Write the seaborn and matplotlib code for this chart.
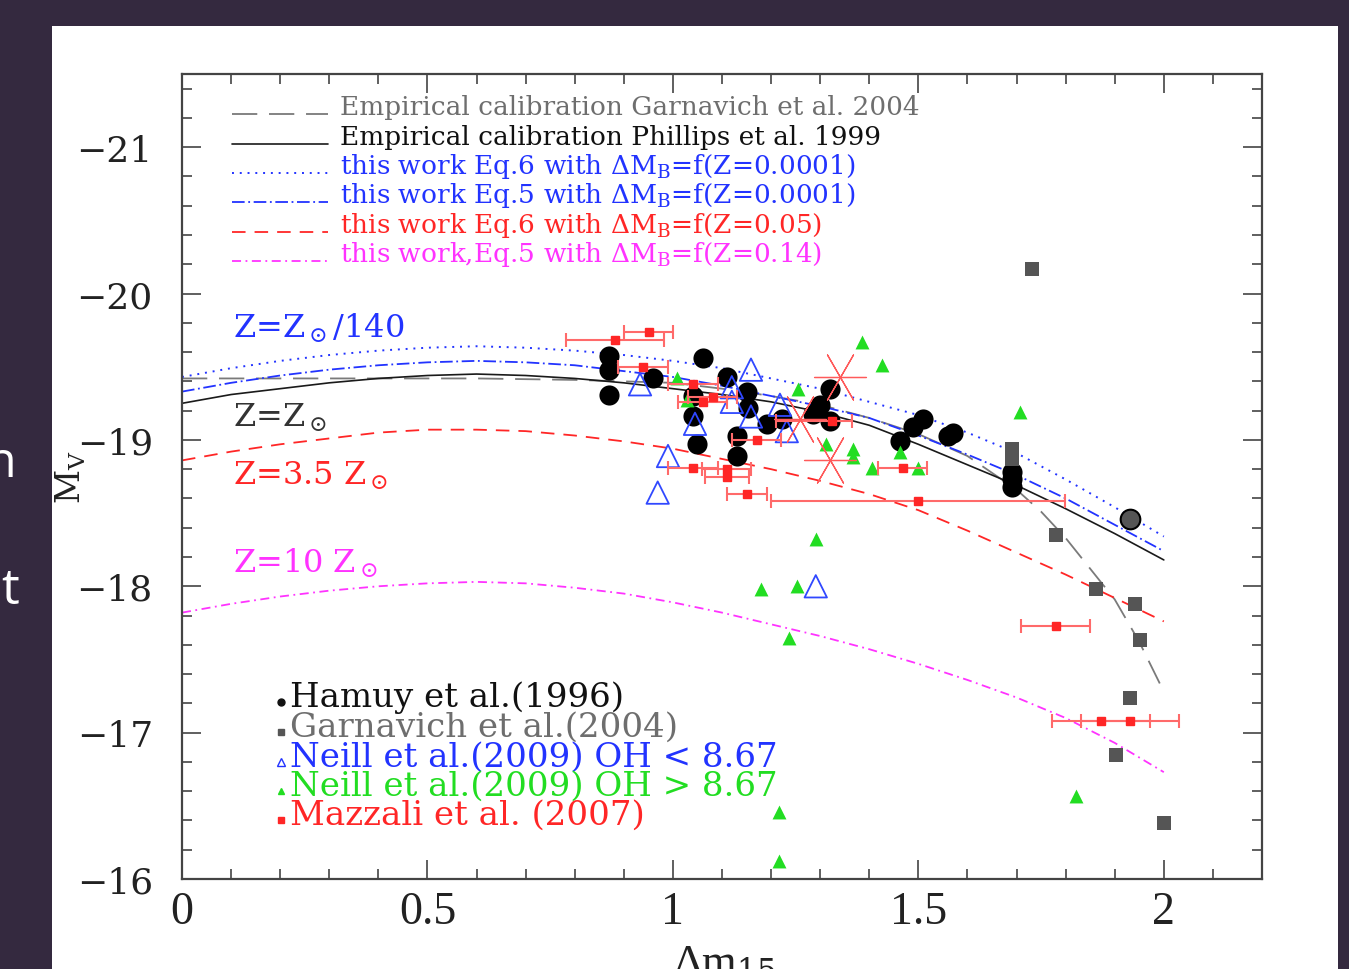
import matplotlib
matplotlib.use("Agg")
import matplotlib.pyplot as plt
import seaborn as sns
from matplotlib.patches import Rectangle
from matplotlib.ticker import MultipleLocator

# ---------------- data ----------------
curve_x = [0.0, 0.1, 0.2, 0.3, 0.4, 0.5, 0.6, 0.7, 0.8, 0.9, 1.0,
           1.1, 1.2, 1.3, 1.4, 1.5, 1.6, 1.7, 1.8, 1.9, 2.0]
phillips_1999 = [-19.25, -19.31, -19.35, -19.39, -19.42, -19.44, -19.45, -19.44, -19.42, -19.39, -19.35,
                 -19.31, -19.26, -19.19, -19.10, -18.97, -18.83, -18.69, -18.53, -18.36, -18.18]
eq6_z0001 = [-19.43, -19.49, -19.54, -19.58, -19.61, -19.63, -19.64, -19.63, -19.61, -19.58, -19.54,
             -19.49, -19.42, -19.35, -19.26, -19.17, -19.05, -18.91, -18.73, -18.54, -18.34]
eq5_z0001 = [-19.33, -19.39, -19.44, -19.48, -19.51, -19.53, -19.54, -19.53, -19.51, -19.47, -19.43,
             -19.37, -19.30, -19.23, -19.15, -19.03, -18.90, -18.76, -18.60, -18.42, -18.24]
eq6_z005 = [-18.86, -18.92, -18.97, -19.01, -19.05, -19.07, -19.07, -19.06, -19.03, -18.99, -18.94,
            -18.87, -18.80, -18.72, -18.63, -18.52, -18.38, -18.23, -18.08, -17.92, -17.76]
eq5_z014 = [-17.82, -17.88, -17.93, -17.97, -18.00, -18.02, -18.03, -18.02, -17.99, -17.95, -17.89,
            -17.82, -17.74, -17.66, -17.57, -17.47, -17.36, -17.24, -17.10, -16.93, -16.73]
garnavich_x = [0.0, 0.2, 0.4, 0.6, 0.8, 1.0, 1.1, 1.2, 1.3, 1.4, 1.5, 1.6,
               1.7, 1.75, 1.8, 1.85, 1.9, 1.95, 2.0]
garnavich_2004 = [-19.42, -19.42, -19.42, -19.42, -19.41, -19.39, -19.35, -19.30, -19.24, -19.15, -19.04, -18.89,
                  -18.66, -18.51, -18.33, -18.12, -17.91, -17.62, -17.28]

hamuy_x = [0.870, 0.870, 0.870, 0.959, 1.061, 1.110, 1.151, 1.041, 1.041, 1.049, 1.130, 1.130,
           1.153, 1.191, 1.222, 1.285, 1.299, 1.320, 1.320, 1.462, 1.489, 1.509, 1.560, 1.570,
           1.690, 1.690, 1.690]
hamuy_m = [-19.57, -19.48, -19.31, -19.42, -19.56, -19.43, -19.33, -19.30, -19.16, -18.97, -19.03, -18.89,
           -19.22, -19.11, -19.14, -19.18, -19.24, -19.35, -19.13, -18.99, -19.09, -19.14, -19.03, -19.05,
           -18.78, -18.73, -18.68]
hamuy_gray_x = [1.931]
hamuy_gray_m = [-18.46]

garn_pts_x = [1.731, 1.690, 1.690, 1.780, 1.862, 1.941, 1.951, 1.931, 1.902, 2.000]
garn_pts_m = [-20.17, -18.94, -18.87, -18.35, -17.98, -17.88, -17.63, -17.24, -16.85, -16.38]

neill_low_x = [0.933, 0.990, 0.969, 1.045, 1.159, 1.120, 1.120, 1.159, 1.218, 1.232, 1.291]
neill_low_m = [-19.38, -18.89, -18.64, -19.11, -19.48, -19.36, -19.26, -19.16, -19.24, -19.06, -18.00]

neill_high_x = [1.008, 1.029, 1.255, 1.385, 1.426, 1.312, 1.367, 1.367, 1.405, 1.462, 1.499,
                1.707, 1.291, 1.179, 1.253, 1.236, 1.216, 1.216, 1.821]
neill_high_m = [-19.42, -19.27, -19.35, -19.67, -19.51, -18.97, -18.94, -18.88, -18.81, -18.92, -18.81,
                -19.19, -18.32, -17.98, -18.00, -17.65, -16.46, -16.12, -16.57]

mazzali_x = [0.882, 0.951, 0.939, 1.041, 1.061, 1.081, 1.171, 1.041, 1.110, 1.110, 1.151,
             1.499, 1.324, 1.468, 1.780, 1.872, 1.931]
mazzali_m = [-19.68, -19.74, -19.50, -19.38, -19.26, -19.29, -19.00, -18.81, -18.80, -18.75, -18.63,
             -18.58, -19.13, -18.81, -17.73, -17.08, -17.08]
mazzali_err_lo = [0.10, 0.05, 0.05, 0.05, 0.05, 0.05, 0.05, 0.05, 0.05, 0.045, 0.04,
                  0.30, 0.115, 0.05, 0.07, 0.10, 0.10]
mazzali_err_hi = [0.10, 0.05, 0.05, 0.05, 0.05, 0.05, 0.05, 0.05, 0.05, 0.045, 0.04,
                  0.30, 0.04, 0.05, 0.07, 0.10, 0.10]
star_x = [1.340, 1.259, 1.320]
star_m = [-19.43, -19.14, -18.86]

xtick_values = [0, 0.5, 1, 1.5, 2]
xtick_labels = ["0", "0.5", "1", "1.5", "2"]
ytick_values = [-21, -20, -19, -18, -17, -16]
ytick_labels = ["\u221221", "\u221220", "\u221219", "\u221218", "\u221217", "\u221216"]

line_labels = [
    "Empirical calibration Garnavich et al. 2004",
    "Empirical calibration Phillips et al. 1999",
    "this work Eq.6 with \u0394M$_{\\rm B}$=f(Z=0.0001)",
    "this work Eq.5 with \u0394M$_{\\rm B}$=f(Z=0.0001)",
    "this work Eq.6 with \u0394M$_{\\rm B}$=f(Z=0.05)",
    "this work,Eq.5 with \u0394M$_{\\rm B}$=f(Z=0.14)",
]
point_labels = [
    "Hamuy et al.(1996)",
    "Garnavich et al.(2004)",
    "Neill et al.(2009) OH < 8.67",
    "Neill et al.(2009) OH > 8.67",
    "Mazzali et al. (2007)",
]
z_labels = ["Z=Z$_\\odot$/140", "Z=Z$_\\odot$", "Z=3.5 Z$_\\odot$", "Z=10 Z$_\\odot$"]

# ---------------- style ----------------
sns.set_theme(style="ticks")
plt.rcParams["font.family"] = ["DejaVu Serif", "DejaVu Sans"]
plt.rcParams["mathtext.fontset"] = "dejavuserif"

GRAY = "#7a7a7a"
BLACK = "#1a1a1a"
BLUE = "#2233ff"
RED = "#ff2626"
MAGENTA = "#ff33ff"
GREEN = "#22dd22"

W, H = 1349, 970
fig = plt.figure(figsize=(W / 100, H / 100), dpi=100)
fig.patch.set_facecolor("#34293f")
fig.patches.append(Rectangle((52 / W, 0), (1338 - 52) / W, (970 - 27) / H,
                             transform=fig.transFigure, facecolor="white",
                             edgecolor="none", zorder=-5))

AX_L, AX_R, AX_T, AX_B = 182, 1262, 75, 880
ax = fig.add_axes([AX_L / W, 1 - AX_B / H, (AX_R - AX_L) / W, (AX_B - AX_T) / H])
ax.set_facecolor("white")


def af(px, py):
    return ((px - AX_L) / (AX_R - AX_L), (AX_B - py) / (AX_B - AX_T))


# curves
curve_specs = [
    (garnavich_x, garnavich_2004, GRAY, (0, (14, 6.5)), 1.3),
    (curve_x, phillips_1999, BLACK, "-", 1.2),
    (curve_x, eq6_z0001, BLUE, (0, (1, 3)), 1.4),
    (curve_x, eq5_z0001, BLUE, (0, (7, 2, 1, 2)), 1.3),
    (curve_x, eq6_z005, RED, (0, (7.5, 5)), 1.3),
    (curve_x, eq5_z014, MAGENTA, (0, (5, 2.5, 1, 2.5)), 1.3),
]
for xs, ys, col, ls, lw in curve_specs:
    sns.lineplot(x=xs, y=ys, color=col, linestyle=ls, linewidth=lw, sort=False,
                 estimator=None, errorbar=None, ax=ax, zorder=2)

# points
sns.scatterplot(x=hamuy_x, y=hamuy_m, marker="o", s=210, color="black",
                edgecolor="black", linewidth=0, ax=ax, zorder=3)
sns.scatterplot(x=hamuy_gray_x, y=hamuy_gray_m, marker="o", s=200, color="#555555",
                edgecolor="black", linewidth=1.5, ax=ax, zorder=3)
sns.scatterplot(x=garn_pts_x, y=garn_pts_m, marker="s", s=110, color="#555555",
                edgecolor="#555555", linewidth=0, ax=ax, zorder=3)
sns.scatterplot(x=neill_low_x, y=neill_low_m, marker="^", s=260, color="none",
                edgecolor="#3048ff", linewidth=1.3, ax=ax, zorder=4)
sns.scatterplot(x=neill_high_x, y=neill_high_m, marker="^", s=100, color=GREEN,
                edgecolor=GREEN, linewidth=0, ax=ax, zorder=4)
ax.errorbar(mazzali_x, mazzali_m, xerr=[mazzali_err_lo, mazzali_err_hi], fmt="s",
            ms=6, mfc=RED, mec=RED, ecolor="#ff6a6a", elinewidth=1.5,
            capsize=5, capthick=1.5, zorder=5)
sns.scatterplot(x=star_x, y=star_m, marker=(6, 2, 90), s=1400, color="#ff5a5a",
                linewidth=0.9, ax=ax, zorder=5)

# axes
ax.set_xlim(0, 2.2)
ax.set_ylim(-16, -21.5)
ax.set_xticks(xtick_values, labels=xtick_labels)
ax.set_yticks(ytick_values, labels=ytick_labels)
ax.xaxis.set_minor_locator(MultipleLocator(0.1))
ax.yaxis.set_minor_locator(MultipleLocator(0.2))
ax.tick_params(which="both", direction="in", top=True, right=True,
               color="#444444", width=1.2)
ax.tick_params(which="major", length=14)
ax.tick_params(which="minor", length=7)
ax.tick_params(axis="y", which="major", pad=21)
ax.tick_params(axis="x", which="major", pad=8)
for lab in ax.get_yticklabels():
    lab.set_fontfamily(["DejaVu Serif", "DejaVu Sans"])
    lab.set_fontsize(26)
    lab.set_color("#222222")
for lab in ax.get_xticklabels():
    lab.set_fontfamily(["Liberation Serif", "DejaVu Serif"])
    lab.set_fontsize(33)
    lab.set_color("#222222")
for sp in ax.spines.values():
    sp.set_color("#444444")
    sp.set_linewidth(1.6)

ax.set_ylabel("M$_{\\rm V}$", fontsize=24, color="#222222")
ax.yaxis.set_label_coords(af(88, 0)[0], 0.5)
ax.set_xlabel("")
fig.text(673 / W, 1 - 944 / H, "\u0394m$_{15}$", fontsize=32, color="#222222",
         family=["Liberation Serif", "DejaVu Serif"], ha="left", va="top")

# top legend (lines)
key_styles = [
    (GRAY, (0, (14, 6.5)), 1.3), (BLACK, "-", 1.2), (BLUE, (0, (1, 3)), 1.4),
    (BLUE, (0, (7, 2, 1, 2)), 1.3), (RED, (0, (7.5, 5)), 1.3), (MAGENTA, (0, (5, 2.5, 1, 2.5)), 1.3),
]
text_cols = ["#6e6e6e", "#111111", BLUE, BLUE, RED, MAGENTA]
line_baselines = [115, 145, 174, 203, 233, 262]
for (col, ls, lw), tcol, yb, lab in zip(key_styles, text_cols, line_baselines, line_labels):
    x0, y0 = af(232, yb)
    x1, _ = af(328, yb)
    ax.plot([x0, x1], [y0, y0], color=col, linestyle=ls, linewidth=lw, transform=ax.transAxes)
    tx, ty = af(340, yb)
    ax.text(tx, ty, lab, transform=ax.transAxes, color=tcol, fontsize=19,
            ha="left", va="baseline")

# bottom legend (points)
pt_cols = ["#111111", "#6e6e6e", BLUE, GREEN, RED]
pt_baselines = [707, 737, 767, 796, 825]
pt_markers = [("o", 5, "#111111", "#111111"), ("s", 4.5, "#555555", "#555555"),
              ("^", 6, "none", BLUE), ("^", 5, GREEN, GREEN), ("s", 5, RED, RED)]
for (mk, ms, fc, ec), tcol, yb, lab in zip(pt_markers, pt_cols, pt_baselines, point_labels):
    mx, my = af(281, yb - 4)
    ax.plot([mx], [my], marker=mk, ms=ms, mfc=fc, mec=ec, mew=1, linestyle="none",
            transform=ax.transAxes)
    tx, ty = af(290, yb)
    ax.text(tx, ty, lab, transform=ax.transAxes, color=tcol, fontsize=24.5,
            ha="left", va="baseline")

# metallicity labels
z_cols = [BLUE, "#333333", RED, MAGENTA]
z_baselines = [338, 427, 485, 573]
for lab, col, yb in zip(z_labels, z_cols, z_baselines):
    tx, ty = af(233, yb)
    ax.text(tx, ty, lab, transform=ax.transAxes, color=col, fontsize=23,
            ha="left", va="baseline")

# slide text peeking from behind the chart
fig.text(17 / W, 1 - 477 / H, "n", color="white", fontsize=36, family="Open Sans",
         ha="right", va="baseline")
fig.text(19 / W, 1 - 604 / H, "t", color="white", fontsize=36, family="Open Sans",
         ha="right", va="baseline")

fig.savefig("out.png", dpi=100, facecolor=fig.get_facecolor())
